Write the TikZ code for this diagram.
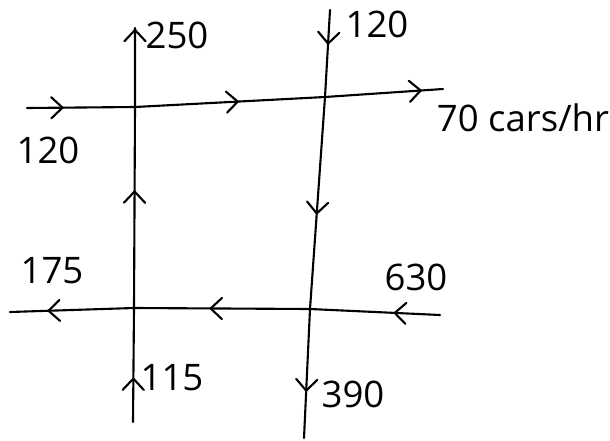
\documentclass[tikz,border=0pt]{standalone}
\usepackage{fontspec}
\setmainfont{Open Sans}
\usetikzlibrary{arrows.meta,decorations.markings}
\begin{document}
\begin{tikzpicture}[x=0.025cm,y=-0.025cm,line width=1.5pt,
  chev/.tip={Straight Barb[length=8pt,width=15pt,line cap=round]},
  road/.style={draw,line cap=round,line join=round},
  flow/.style n args={3}{postaction={decorate,decoration={markings,
    mark=at position #1 with {\arrow{chev}},
    mark=at position #2 with {\arrow{chev}},
    mark=at position #3 with {\arrow{chev}}}}},
  count/.style={font=\fontsize{26}{28}\selectfont,inner sep=0pt}]
\useasboundingbox (0,0) rectangle (610,440);
\coordinate (nw) at (135,107);
\coordinate (ne) at (325,97);
\coordinate (sw) at (134,308);
\coordinate (se) at (310,309);
\coordinate (wtop) at (27,108);
\coordinate (etop) at (443,89);
\coordinate (wbot) at (10,312);
\coordinate (ebot) at (440,315);
\coordinate (nleft) at (135,28);
\coordinate (sleft) at (133,422);
\coordinate (nright) at (330,10);
\coordinate (sright) at (304,438);
\draw[road,flow={0.089}{0.51}{0.95}] (wtop) -- (nw) -- (ne) -- (etop);
\draw[road,flow={0.109}{0.537}{0.914}] (ebot) -- (se) -- (sw) -- (wbot);
\draw[road,flow={0.114}{0.589}{0.999}] (sleft) -- (sw) -- (nw) -- (nleft);
\draw[road,flow={0.082}{0.479}{0.893}] (nright) -- (ne) -- (se) -- (sright);
\node[count] (in250) at (177,35) {250};
\node[count] (in120n) at (377,24) {120};
\node[count] (in120w) at (48,150) {120};
\node[count] (out70) at (523,118) {70 cars/hr};
\node[count] (out175) at (52,271) {175};
\node[count] (in630) at (416,277) {630};
\node[count] (in115) at (172,378) {115};
\node[count] (out390) at (353,394) {390};
\end{tikzpicture}
\end{document}
